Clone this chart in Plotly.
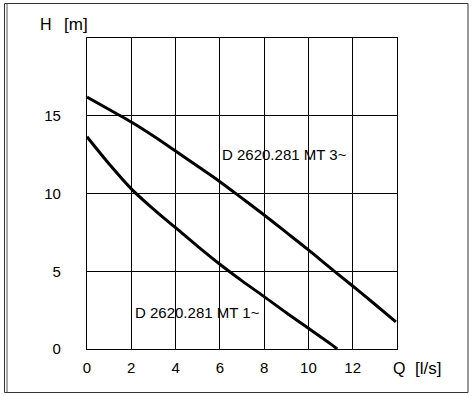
import plotly.graph_objects as go

# Data
q_mt3 = [0, 1, 2, 3, 4, 5, 6, 7, 8, 9, 10, 11, 12, 13, 13.95]
h_mt3 = [16.2, 15.4, 14.6, 13.7, 12.73, 11.75, 10.76, 9.7, 8.62, 7.5, 6.37, 5.2, 4.05, 2.88, 1.75]
q_mt1 = [0, 1, 2, 3, 4, 5, 6, 7, 8, 9, 10, 11, 11.3]
h_mt1 = [13.65, 11.9, 10.3, 9.0, 7.8, 6.6, 5.45, 4.38, 3.37, 2.33, 1.33, 0.33, 0.0]
x_ticks = [0, 2, 4, 6, 8, 10, 12]
y_ticks = [0, 5, 10, 15]
label_mt3 = "D 2620.281 MT 3~"
label_mt1 = "D 2620.281 MT 1~"

W, H = 474, 396
L, R, T, B = 87, 397, 38, 349
FONT = "Liberation Sans, Arial, sans-serif"

def px(x):
    return (x - L) / (R - L)

def py(y):
    return (B - y) / (B - T)

fig = go.Figure()
fig.add_trace(go.Scatter(x=q_mt3, y=h_mt3, mode="lines", line=dict(color="black", width=3),
                         line_shape="spline", showlegend=False, hoverinfo="skip"))
fig.add_trace(go.Scatter(x=q_mt1, y=h_mt1, mode="lines", line=dict(color="black", width=3),
                         line_shape="spline", showlegend=False, hoverinfo="skip"))

axis_common = dict(showgrid=True, gridcolor="black", gridwidth=1.3, zeroline=False,
                   showline=True, linecolor="black", linewidth=1.3, mirror=True,
                   ticks="", tickfont=dict(family=FONT, size=15, color="black"), fixedrange=True)

fig.update_xaxes(range=[0, 14], tickvals=x_ticks, ticktext=[str(v) for v in x_ticks],
                 ticklabelstandoff=5, **axis_common)
fig.update_yaxes(range=[0, 20], tickvals=y_ticks, ticktext=[str(v) for v in y_ticks],
                 ticklabelstandoff=22, **axis_common)

def ann(x, y, text, size=15):
    return dict(x=px(x), y=py(y), xref="paper", yref="paper", text=text, showarrow=False,
                xanchor="left", yanchor="middle", font=dict(family=FONT, size=size, color="black"))

annotations = [
    ann(220, 154, label_mt3),
    ann(133, 312, label_mt1),
    ann(38, 25, "H", 16),
    ann(62, 25, "[m]", 17),
    ann(391, 368, "Q", 16),
    ann(413, 368, "[l/s]", 17),
]

shapes = [
    dict(type="rect", xref="paper", yref="paper", x0=px(4.5), x1=px(468), y0=py(392.5), y1=py(3.5),
         line=dict(color="#333333", width=1), layer="below"),
    dict(type="line", xref="paper", yref="paper", x0=px(7), x1=px(7), y0=py(392.5), y1=py(3.5),
         line=dict(color="#555555", width=1), layer="below"),
]

fig.update_layout(width=W, height=H, margin=dict(l=L, r=W - R, t=T, b=H - B),
                  paper_bgcolor="white", plot_bgcolor="white",
                  annotations=annotations, shapes=shapes, showlegend=False)

fig.write_html("out.html", config={"displayModeBar": False},
               post_script="document.body.style.margin='0';document.body.style.overflow='hidden';")
